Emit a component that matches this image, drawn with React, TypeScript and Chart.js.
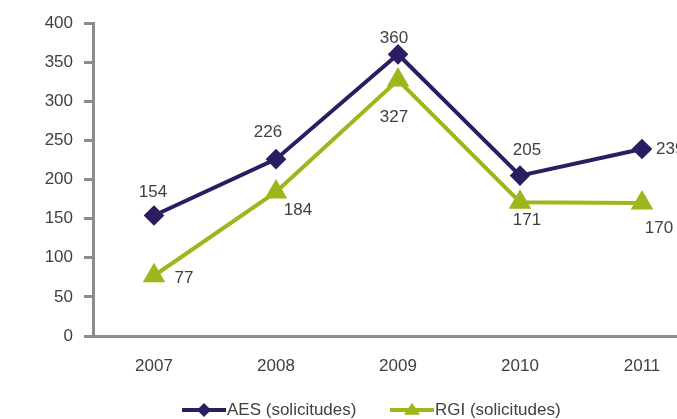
import React, { useEffect, useRef } from "react";
import { Chart, registerables } from "chart.js";

Chart.register(...registerables);

const categories = ["2007", "2008", "2009", "2010", "2011"];
const aesValues = [154, 226, 360, 205, 239];
const rgiValues = [77, 184, 327, 171, 170];
const seriesNames = ["AES (solicitudes)", "RGI (solicitudes)"];
const yTicks = [0, 50, 100, 150, 200, 250, 300, 350, 400];

const NAVY = "#2C1C62";
const GREEN = "#9BB71C";
const TEXT = "#404040";
const AXIS = "#8c8c8c";
const FONT_FAMILY = '"Liberation Sans", Arial, sans-serif';
const FONT_SIZE = 17;

// label offsets (dx, dy) relative to each point, per dataset
const labelOffsets = [
  [[-1, -23], [-8, -27], [-4, -16], [7, -25], [14, 0, "left"]],
  [[30, 3], [22, 18], [-4, 37], [7, 18], [17, 25]],
];

function drawMarker(ctx: CanvasRenderingContext2D, style: string, x: number, y: number, r: number, color: string) {
  ctx.save();
  ctx.fillStyle = color;
  ctx.beginPath();
  if (style === "rectRot") {
    ctx.moveTo(x, y - r);
    ctx.lineTo(x + r, y);
    ctx.lineTo(x, y + r);
    ctx.lineTo(x - r, y);
  } else {
    const h = r * 1.5;
    ctx.moveTo(x, y - h * 0.6);
    ctx.lineTo(x + r, y + h * 0.4);
    ctx.lineTo(x - r, y + h * 0.4);
  }
  ctx.closePath();
  ctx.fill();
  ctx.restore();
}

const labelsPlugin = {
  id: "valueLabels",
  afterDatasetsDraw(chart: any) {
    const ctx = chart.ctx as CanvasRenderingContext2D;
    ctx.save();
    ctx.font = `${FONT_SIZE}px ${FONT_FAMILY}`;
    ctx.fillStyle = TEXT;
    ctx.textBaseline = "middle";
    chart.data.datasets.forEach((ds: any, di: number) => {
      const meta = chart.getDatasetMeta(di);
      meta.data.forEach((pt: any, i: number) => {
        const off: any = labelOffsets[di][i];
        ctx.textAlign = off[2] || "center";
        ctx.fillText(String(ds.data[i]), pt.x + off[0], pt.y + off[1]);
      });
    });
    ctx.restore();
  },
};

const legendPlugin = {
  id: "customLegend",
  afterDraw(chart: any) {
    const ctx = chart.ctx as CanvasRenderingContext2D;
    const y = 410;
    const items = [
      { x: 182, text: seriesNames[0], color: NAVY, style: "rectRot", r: 7 },
      { x: 390, text: seriesNames[1], color: GREEN, style: "triangle", r: 8 },
    ];
    ctx.save();
    ctx.font = `${FONT_SIZE}px ${FONT_FAMILY}`;
    ctx.textBaseline = "middle";
    ctx.textAlign = "left";
    items.forEach((it) => {
      ctx.strokeStyle = it.color;
      ctx.lineWidth = 4;
      ctx.beginPath();
      ctx.moveTo(it.x, y);
      ctx.lineTo(it.x + 44, y);
      ctx.stroke();
      drawMarker(ctx, it.style, it.x + 22, y, it.r, it.color);
      ctx.fillStyle = TEXT;
      ctx.fillText(it.text, it.x + 45, y);
    });
    ctx.restore();
  },
};

export default function App() {
  const ref = useRef<HTMLCanvasElement | null>(null);
  useEffect(() => {
    if (!ref.current) return;
    const chart = new Chart(ref.current, {
      type: "line",
      data: {
        labels: categories,
        datasets: [
          {
            label: seriesNames[0],
            data: aesValues,
            borderColor: NAVY,
            backgroundColor: NAVY,
            borderWidth: 4,
            pointStyle: "rectRot",
            pointRadius: 7.5,
            pointHoverRadius: 7.5,
            tension: 0,
          },
          {
            label: seriesNames[1],
            data: rgiValues,
            borderColor: GREEN,
            backgroundColor: GREEN,
            borderWidth: 4,
            pointStyle: "triangle",
            pointRadius: 9,
            pointHoverRadius: 9,
            tension: 0,
          },
        ],
      },
      options: {
        responsive: false,
        animation: false,
        devicePixelRatio: 1,
        layout: { padding: { top: 23, right: 17, bottom: 0, left: 0 } },
        plugins: { legend: { display: false }, tooltip: { enabled: false } },
        scales: {
          x: {
            offset: true,
            grid: { display: false, drawTicks: false },
            border: { display: true, color: AXIS, width: 3 },
            ticks: {
              padding: 20,
              color: TEXT,
              font: { family: FONT_FAMILY, size: FONT_SIZE },
            },
            afterFit(scale: any) {
              scale.height = 83;
            },
          },
          y: {
            min: 0,
            max: 400,
            afterBuildTicks(scale: any) {
              scale.ticks = yTicks.map((v) => ({ value: v }));
            },
            grid: {
              display: true,
              drawOnChartArea: false,
              drawTicks: true,
              tickLength: 9,
              color: AXIS,
              lineWidth: 3,
            },
            border: { display: true, color: AXIS, width: 3 },
            ticks: {
              padding: 11,
              color: TEXT,
              font: { family: FONT_FAMILY, size: FONT_SIZE },
            },
            afterFit(scale: any) {
              scale.width = 93;
            },
          },
        },
      },
      plugins: [labelsPlugin, legendPlugin],
    });
    return () => chart.destroy();
  }, []);

  return (
    <div style={{ position: "fixed", left: 0, top: 0, width: 677, height: 419, overflow: "hidden", background: "#fff" }}>
      <canvas ref={ref} width={720} height={419} style={{ display: "block", width: 720, height: 419 }} />
    </div>
  );
}
